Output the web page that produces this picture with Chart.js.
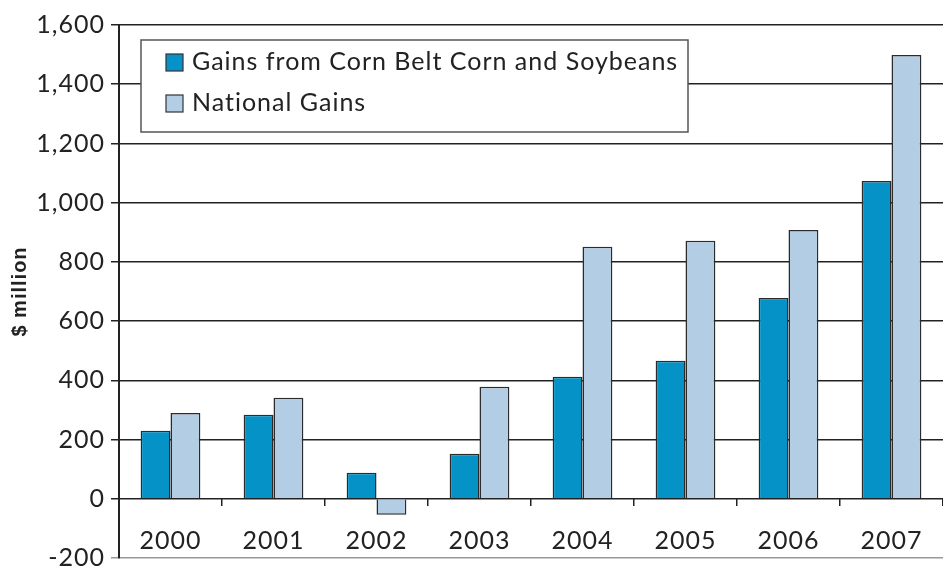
<!DOCTYPE html>
<html>
<head>
<meta charset="utf-8">
<script src="https://cdn.jsdelivr.net/npm/chart.js@4"></script>
<style>
  html, body { margin: 0; padding: 0; background: #fff; }
  #wrap { width: 943px; height: 567px; }
</style>
</head>
<body>
<div id="wrap"><canvas id="gains-chart" width="943" height="567"></canvas></div>
<script>
const years = ["2000", "2001", "2002", "2003", "2004", "2005", "2006", "2007"];
const cornBeltGains = [230, 284, 88, 152, 412, 466, 678, 1073];
const nationalGains = [290, 341, -54, 378, 851, 871, 908, 1499];
const seriesNames = ["Gains from Corn Belt Corn and Soybeans", "National Gains"];

const fontFamily = "Lato, 'Open Sans', sans-serif";
const darkBlue = "#0593c7";
const lightBlue = "#b3cee4";

// the original face is wider than Lato, so space the letters a bit
const wideText = {
  id: "wideText",
  beforeUpdate(chart) {
    chart.ctx.letterSpacing = "1px";
  },
  beforeDraw(chart) {
    chart.ctx.letterSpacing = "1px";
  },
};

// legend box drawn inside the plot, top-left
const boxLegend = {
  id: "boxLegend",
  afterDatasetsDraw(chart) {
    const { ctx, chartArea } = chart;
    const x = chartArea.left + 22;
    const y = chartArea.top + 15;
    const w = 547;
    const h = 92;
    ctx.save();
    ctx.fillStyle = "#fff";
    ctx.fillRect(x, y, w, h);
    ctx.strokeStyle = "#555";
    ctx.lineWidth = 1.5;
    ctx.strokeRect(x, y, w, h);
    ctx.font = "25px " + fontFamily;
    ctx.textBaseline = "middle";
    chart.data.datasets.forEach((ds, i) => {
      const rowY = y + 22 + i * 41;
      ctx.fillStyle = ds.backgroundColor;
      ctx.fillRect(x + 25, rowY - 8, 17, 17);
      ctx.strokeStyle = "#333";
      ctx.lineWidth = 1.2;
      ctx.strokeRect(x + 25, rowY - 8, 17, 17);
      ctx.fillStyle = "#222";
      ctx.fillText(ds.label, x + 51, rowY);
    });
    ctx.restore();
  },
};

new Chart(document.getElementById("gains-chart").getContext("2d"), {
  type: "bar",
  data: {
    labels: years,
    datasets: [
      {
        label: seriesNames[0],
        data: cornBeltGains,
        backgroundColor: darkBlue,
        borderColor: "#2b2b2b",
        borderWidth: 1.5,
      },
      {
        label: seriesNames[1],
        data: nationalGains,
        backgroundColor: lightBlue,
        borderColor: "#2b2b2b",
        borderWidth: 1.5,
      },
    ],
  },
  options: {
    responsive: false,
    animation: false,
    layout: { padding: { top: 25, right: 0, bottom: 9, left: 0 } },
    categoryPercentage: 0.58,
    barPercentage: 1.0,
    plugins: {
      legend: { display: false },
      tooltip: { enabled: false },
    },
    scales: {
      x: {
        position: { y: 0 },
        grid: {
          drawOnChartArea: false,
          drawTicks: true,
          tickLength: 7,
          color: "#222",
          lineWidth: 1.5,
        },
        border: { display: false },
        ticks: {
          color: "#222",
          padding: 20,
          font: { family: fontFamily, size: 25 },
        },
      },
      y: {
        min: -200,
        max: 1600,
        afterFit(scale) {
          scale.width = 119;
          scale.paddingTop = 0;
          scale.paddingBottom = 0;
        },
        ticks: {
          stepSize: 200,
          color: "#222",
          padding: 6,
          font: { family: fontFamily, size: 25 },
          callback: (v) => v.toLocaleString("en-US"),
        },
        grid: {
          color: (c) => (c.tick && c.tick.value === -200 ? "#999" : "#222"),
          lineWidth: 1.5,
          tickLength: 8,
        },
        border: { display: true, color: "#222", width: 2 },
        title: {
          display: true,
          text: "$ million",
          color: "#222",
          padding: { top: 8, bottom: 0 },
          font: { family: "'Liberation Sans', sans-serif", size: 20, weight: "bold" },
        },
      },
    },
  },
  plugins: [wideText, boxLegend],
});
</script>
</body>
</html>
